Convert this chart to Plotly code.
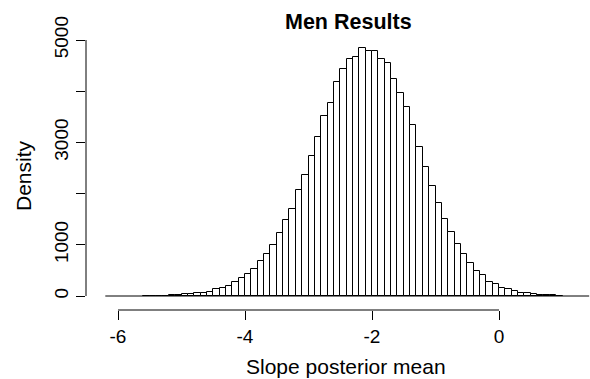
import plotly.graph_objects as go

# ---- data ----
bin_start = -5.6
bin_width = 0.1
density = [3, 4, 6, 8, 12, 17, 33, 33, 52, 52,
           88, 134, 150, 195, 267, 342, 423, 534, 684, 817,
           993, 1230, 1478, 1709, 2064, 2366, 2741, 3115, 3525, 3779,
           4183, 4443, 4625, 4668, 4837, 4790, 4790, 4626, 4544, 4238,
           3958, 3685, 3333, 2917, 2513, 2158, 1826, 1513, 1247, 1019,
           820, 641, 488, 404, 270, 225, 160, 130, 91, 59,
           52, 34, 20, 16, 12, 7]
x_tick_vals = [-6, -4, -2, 0]
x_tick_text = ["-6", "-4", "-2", "0"]
y_tick_vals = [0, 1000, 2000, 3000, 4000, 5000]
y_tick_text = ["0", "1000", "", "3000", "", "5000"]
density_line_x = [-6.2, 1.42]
density_line_y = [0, 0]

title_text = "Men Results"
x_title = "Slope posterior mean"
y_title = "Density"

centers = [bin_start + bin_width * (i + 0.5) for i in range(len(density))]

FONT = "Liberation Sans, Arial, sans-serif"

fig = go.Figure()
fig.add_trace(go.Scatter(x=density_line_x, y=density_line_y, mode="lines",
                         line=dict(color="black", width=1), hoverinfo="skip"))
fig.add_trace(go.Bar(x=centers, y=density, width=bin_width,
                     marker=dict(color="white", line=dict(color="black", width=1))))

W, H = 590, 379
L, R, T, B = 86, 0, 30, 69
pw = W - L - R
ph = H - T - B

fig.update_layout(
    width=W, height=H,
    margin=dict(l=L, r=R, t=T, b=B, pad=0),
    paper_bgcolor="white", plot_bgcolor="white",
    showlegend=False, bargap=0,
    font=dict(family=FONT, color="black"),
    xaxis=dict(range=[-6.504, 1.433], tickvals=x_tick_vals, ticktext=x_tick_text,
               ticks="outside", ticklen=9, tickwidth=1, tickcolor="black",
               showgrid=False, zeroline=False, showline=False,
               tickfont=dict(size=19, family=FONT, color="black")),
    yaxis=dict(range=[-273.4, 5195.3], tickvals=y_tick_vals, ticktext=y_tick_text,
               tickangle=-90, ticks="outside", ticklen=9, tickwidth=1, tickcolor="black",
               showgrid=False, zeroline=False, showline=False,
               tickfont=dict(size=19, family=FONT, color="black")),
    shapes=[
        dict(type="line", xref="x", yref="paper", x0=min(x_tick_vals), x1=max(x_tick_vals),
             y0=0, y1=0, line=dict(color="black", width=1)),
        dict(type="line", xref="paper", yref="y", x0=0, x1=0,
             y0=min(y_tick_vals), y1=max(y_tick_vals), line=dict(color="black", width=1)),
    ],
    annotations=[
        dict(text="<b>%s</b>" % title_text, xref="paper", yref="paper",
             x=(348 - L) / pw, y=1, xanchor="center", yanchor="middle",
             yshift=T - 21.7, showarrow=False, font=dict(size=21.5, family=FONT)),
        dict(text=x_title, xref="paper", yref="paper",
             x=(345.5 - L) / pw, y=0, xanchor="center", yanchor="middle",
             yshift=-56, showarrow=False, font=dict(size=21, family=FONT)),
        dict(text=y_title, xref="paper", yref="paper", textangle=-90,
             x=0, y=(T + ph - 176) / ph, xanchor="center", yanchor="middle",
             xshift=-(L - 24), showarrow=False, font=dict(size=21, family=FONT)),
    ],
)

fig.write_html("out.html")
